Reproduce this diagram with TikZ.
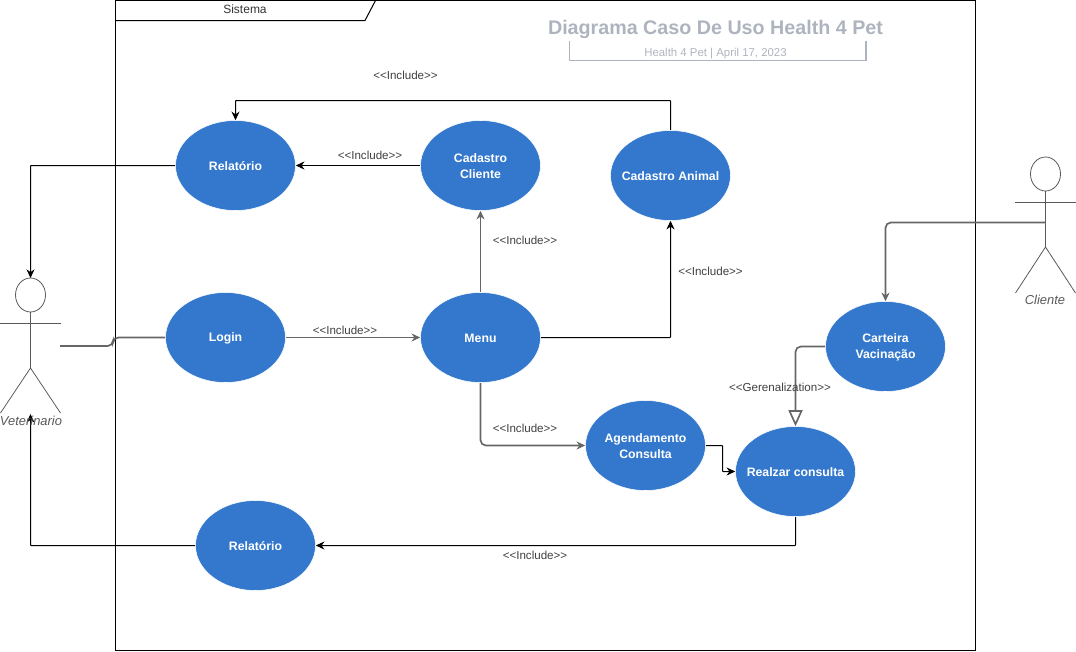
\documentclass[tikz,border=0pt]{standalone}
\usepackage{fontspec}
\setmainfont{Liberation Sans}
\usetikzlibrary{shapes.geometric,arrows.meta}
\tikzset{>={Stealth[length=6.5pt,width=6pt]}}
\definecolor{usecase}{HTML}{3378CC}
\definecolor{linegray}{HTML}{666666}
\definecolor{titlegray}{HTML}{AEB4BE}
\tikzset{
  usecase/.style={ellipse,fill=usecase,draw=white,inner xsep=-15pt,inner ysep=0pt,minimum width=90pt,minimum height=67.5pt,
    align=center,text=white,font=\bfseries\fontsize{9.2}{12}\selectfont},
  lbl/.style={inner sep=0pt,text=black!75,font=\fontsize{8.7}{10}\selectfont},
  actorlbl/.style={inner sep=0pt,text=black!65,font=\itshape\fontsize{9.7}{11}\selectfont},
  blackline/.style={draw=black,line width=0.75pt,rounded corners=0.5pt},
  grayline/.style={draw=linegray,line width=1.25pt,rounded corners=4pt},
  stick/.style={draw=black!65,line width=0.6pt}
}
\newcommand{\incl}{<{}<Include>{}>}
\newcommand{\low}[1]{\raisebox{-0.75pt}[\height][\depth]{#1}}
\begin{document}
\begin{tikzpicture}[x=0.75pt,y=-0.75pt]
\useasboundingbox (0,0) rectangle (1076,651);

% System frame and its tab
\draw[line width=0.75pt] (115.5,0.5) rectangle (975.5,650.5);
\draw[line width=0.75pt] (115.5,20.5) -- (365,20.5) -- (375.5,0.5);
\node[lbl,text=black!80,font=\fontsize{9}{11}\selectfont] (sistema) at (245,9) {Sistema};

% Title
\node[inner sep=0pt,text=titlegray,font=\bfseries\fontsize{14.77}{17}\selectfont] (title) at (715.5,29) {Diagrama Caso De Uso Health 4 Pet};
\node[inner sep=0pt,text=titlegray,font=\fontsize{8.55}{10}\selectfont] (subtitle) at (715.5,54) {Health 4 Pet | April 17, 2023};
\draw[titlegray,line width=1pt] (569.5,41) -- (569.5,60.5) -- (866,60.5) -- (866,41);

% Use cases
\node[usecase] (RelTop) at (235.5,165.5) {\low{Relatório}};
\node[usecase] (CadCliente) at (480.5,165.5) {\low{Cadastro}\\\low{Cliente}};
\node[usecase] (CadAnimal) at (670.5,175.5) {\low{Cadastro Animal}};
\node[usecase] (Login) at (225.5,337.5) {\low{Login}};
\node[usecase] (Menu) at (480.5,337.5) {\low{Menu}};
\node[usecase] (Agenda) at (645.5,445.5) {\low{Agendamento}\\\low{Consulta}};
\node[usecase] (Consulta) at (795.5,471.5) {\low{Realzar consulta}};
\node[usecase] (Carteira) at (885.5,346.5) {\low{Carteira}\\\low{Vacinação}};
\node[usecase] (RelBottom) at (255.5,545.5) {\low{Relatório}};

% Actor Veterinario
\coordinate (VetHead) at (30.5,278);
\coordinate (VetFeet) at (30.5,414);
\coordinate (VetHand) at (60,346);
\draw[stick] (30.5,295) ellipse [x radius=15,y radius=17];
\draw[stick] (30.5,312) -- (30.5,368);
\draw[stick] (0,323.5) -- (61,323.5);
\draw[stick] (0.5,413) -- (30.5,368) -- (60.5,413);

% Actor Cliente
\coordinate (CliHand) at (1045.5,222.5);
\draw[stick] (1045.5,174) ellipse [x radius=15,y radius=17];
\draw[stick] (1045.5,191) -- (1045.5,247);
\draw[stick] (1015,202.5) -- (1076,202.5);
\draw[stick] (1015.5,293) -- (1045.5,247) -- (1075.5,293);

% Connectors
\draw[blackline,->] (RelTop.west) -| (VetHead);
\draw[grayline] (Login.west) -- (113,337.5) -- (113,346) -- (VetHand);
\draw[grayline,->] (Login.east) -- (Menu.west);
\draw[blackline,->] (CadCliente.west) -- (RelTop.east);
\draw[grayline,->] (Menu.north) -- (CadCliente.south);
\draw[blackline,->] (Menu.east) -| (CadAnimal.south);
\draw[blackline,->] (CadAnimal.north) -- (670.5,100.5) -- (235.5,100.5) -- (RelTop.north);
\draw[grayline,->] (Menu.south) |- (Agenda.west);
\draw[blackline,->] (Agenda.east) -- (722.5,445.5) -- (722.5,471.5) -- (Consulta.west);
\draw[blackline,->] (Consulta.south) |- (RelBottom.east);
\draw[blackline,->] (RelBottom.west) -| (VetFeet);
\draw[grayline,->] (CliHand) -| (Carteira.north);
\draw[grayline,-{Triangle[open,length=12pt,width=10.5pt,fill=white]}] (Carteira.west) -| (Consulta.north);

% Labels
\node[lbl] (incA) at (405.5,75.5) {\incl};
\node[lbl] (incB) at (370,155.5) {\incl};
\node[lbl] (incC) at (525,240.5) {\incl};
\node[lbl] (incD) at (710.5,271.5) {\incl};
\node[lbl] (incE) at (345,330.5) {\incl};
\node[lbl] (incF) at (525,428.5) {\incl};
\node[lbl] (incG) at (535,555.5) {\incl};
\node[lbl] (genA) at (780,387.5) {<{}<Gerenalization>{}>};
\node[actorlbl] (vetLabel) at (31,420.5) {Veterinario};
\node[actorlbl] (cliLabel) at (1045,299.5) {Cliente};
\end{tikzpicture}
\end{document}
